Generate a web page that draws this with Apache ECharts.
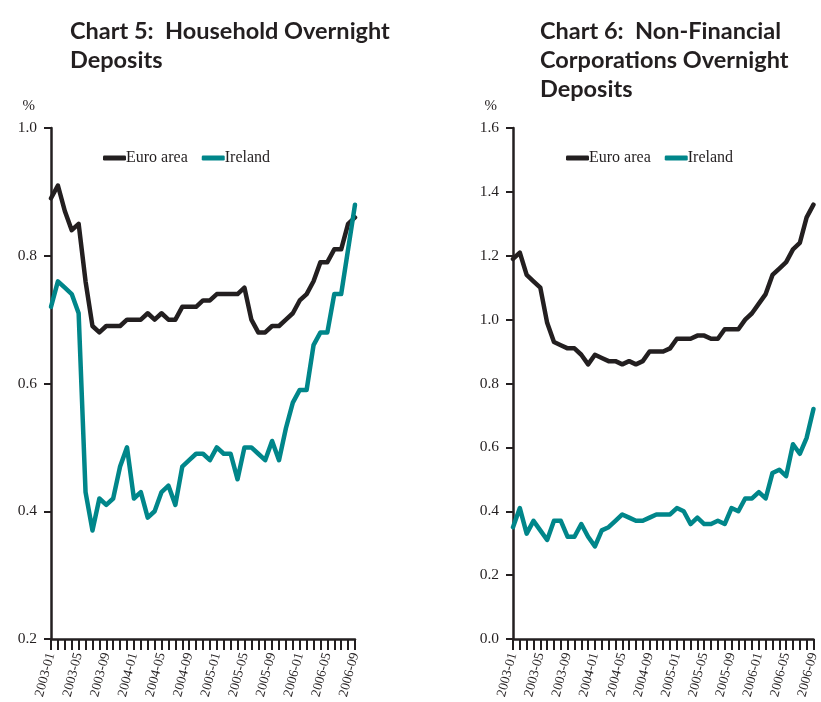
<!DOCTYPE html>
<html lang="en">
<head>
    <meta charset="UTF-8">
    <title>Overnight Deposits</title>
    <script src="https://cdn.jsdelivr.net/npm/echarts@6/dist/echarts.min.js"></script>
</head>
<body style="margin:0;">
<div id="main" style="width:821px;height:702px;"></div>
<script type="text/javascript">
    const months = [
        '2003-01', '2003-02', '2003-03', '2003-04', '2003-05', '2003-06', '2003-07', '2003-08', '2003-09',
        '2003-10', '2003-11', '2003-12', '2004-01', '2004-02', '2004-03', '2004-04', '2004-05', '2004-06',
        '2004-07', '2004-08', '2004-09', '2004-10', '2004-11', '2004-12', '2005-01', '2005-02', '2005-03',
        '2005-04', '2005-05', '2005-06', '2005-07', '2005-08', '2005-09', '2005-10', '2005-11', '2005-12',
        '2006-01', '2006-02', '2006-03', '2006-04', '2006-05', '2006-06', '2006-07', '2006-08', '2006-09'
    ];

    // Chart 5: household overnight deposits (%)
    const householdEuro = [
        0.89, 0.91, 0.87, 0.84, 0.85, 0.76, 0.69, 0.68, 0.69, 0.69, 0.69, 0.70, 0.70, 0.70, 0.71,
        0.70, 0.71, 0.70, 0.70, 0.72, 0.72, 0.72, 0.73, 0.73, 0.74, 0.74, 0.74, 0.74, 0.75, 0.70,
        0.68, 0.68, 0.69, 0.69, 0.70, 0.71, 0.73, 0.74, 0.76, 0.79, 0.79, 0.81, 0.81, 0.85, 0.86
    ];
    const householdIreland = [
        0.72, 0.76, 0.75, 0.74, 0.71, 0.43, 0.37, 0.42, 0.41, 0.42, 0.47, 0.50, 0.42, 0.43, 0.39,
        0.40, 0.43, 0.44, 0.41, 0.47, 0.48, 0.49, 0.49, 0.48, 0.50, 0.49, 0.49, 0.45, 0.50, 0.50,
        0.49, 0.48, 0.51, 0.48, 0.53, 0.57, 0.59, 0.59, 0.66, 0.68, 0.68, 0.74, 0.74, 0.81, 0.88
    ];

    // Chart 6: non-financial corporations overnight deposits (%)
    const corporateEuro = [
        1.19, 1.21, 1.14, 1.12, 1.10, 0.99, 0.93, 0.92, 0.91, 0.91, 0.89, 0.86, 0.89, 0.88, 0.87,
        0.87, 0.86, 0.87, 0.86, 0.87, 0.90, 0.90, 0.90, 0.91, 0.94, 0.94, 0.94, 0.95, 0.95, 0.94,
        0.94, 0.97, 0.97, 0.97, 1.00, 1.02, 1.05, 1.08, 1.14, 1.16, 1.18, 1.22, 1.24, 1.32, 1.36
    ];
    const corporateIreland = [
        0.35, 0.41, 0.33, 0.37, 0.34, 0.31, 0.37, 0.37, 0.32, 0.32, 0.36, 0.32, 0.29, 0.34, 0.35,
        0.37, 0.39, 0.38, 0.37, 0.37, 0.38, 0.39, 0.39, 0.39, 0.41, 0.40, 0.36, 0.38, 0.36, 0.36,
        0.37, 0.36, 0.41, 0.40, 0.44, 0.44, 0.46, 0.44, 0.52, 0.53, 0.51, 0.61, 0.58, 0.63, 0.72
    ];

    const ink = '#231f20';
    const teal = '#00868a';
    const serif = '"Liberation Serif", "DejaVu Serif", serif';

    const myChart = echarts.init(document.getElementById('main'));

    const titleStyle = {
        fontFamily: 'Lato',
        fontWeight: 'bold',
        fontSize: 23.5,
        lineHeight: 29,
        color: ink
    };

    const makeLegend = (left) => ({
        data: ['Euro area', 'Ireland'],
        left: left,
        top: 145,
        icon: 'roundRect',
        itemWidth: 23,
        itemHeight: 5,
        itemGap: 14,
        selectedMode: false,
        textStyle: {
            fontFamily: serif,
            fontSize: 16,
            color: ink,
            padding: [0, 0, 0, -5]
        }
    });

    const makeX = (idx) => ({
        type: 'category',
        gridIndex: idx,
        data: months,
        boundaryGap: false,
        axisLine: {lineStyle: {color: ink, width: 2.5}},
        axisTick: {interval: 0, length: 11, lineStyle: {color: ink, width: 2}},
        axisLabel: {
            interval: 3,
            rotate: 75,
            margin: 14,
            fontFamily: serif,
            fontSize: 13.5,
            color: ink
        },
        splitLine: {show: false}
    });

    const makeY = (idx, min, max) => ({
        type: 'value',
        gridIndex: idx,
        min: min,
        max: max,
        interval: 0.2,
        name: '%',
        nameLocation: 'end',
        nameGap: 14,
        nameTextStyle: {
            fontFamily: serif,
            fontSize: 15,
            color: ink,
            align: 'right',
            padding: [0, 16, 0, 0]
        },
        axisLine: {show: true, lineStyle: {color: ink, width: 2.5}},
        axisTick: {show: true, length: 7, lineStyle: {color: ink, width: 2}},
        axisLabel: {
            margin: 14,
            fontFamily: serif,
            fontSize: 15.5,
            color: ink,
            formatter: (v) => v.toFixed(1)
        },
        splitLine: {show: false}
    });

    const makeLine = (name, idx, data, color) => ({
        name: name,
        type: 'line',
        xAxisIndex: idx,
        yAxisIndex: idx,
        data: data,
        symbol: 'none',
        color: color,
        lineStyle: {width: 4.5, color: color, cap: 'round', join: 'round'}
    });

    const option = {
        animation: false,
        backgroundColor: '#fff',
        title: [
            {text: 'Chart 5:  Household Overnight\nDeposits', left: 65, top: 12, textStyle: titleStyle},
            {text: 'Chart 6:  Non-Financial\nCorporations Overnight\nDeposits', left: 535, top: 12, textStyle: titleStyle}
        ],
        legend: [makeLegend(98), makeLegend(561)],
        grid: [
            {left: 51, top: 128, width: 304, height: 511},
            {left: 513, top: 128, width: 305, height: 511}
        ],
        xAxis: [makeX(0), makeX(1)],
        yAxis: [makeY(0, 0.2, 1.0), makeY(1, 0, 1.6)],
        series: [
            makeLine('Euro area', 0, householdEuro, ink),
            makeLine('Ireland', 0, householdIreland, teal),
            makeLine('Euro area', 1, corporateEuro, ink),
            makeLine('Ireland', 1, corporateIreland, teal)
        ]
    };

    myChart.setOption(option);
</script>
</body>
</html>
